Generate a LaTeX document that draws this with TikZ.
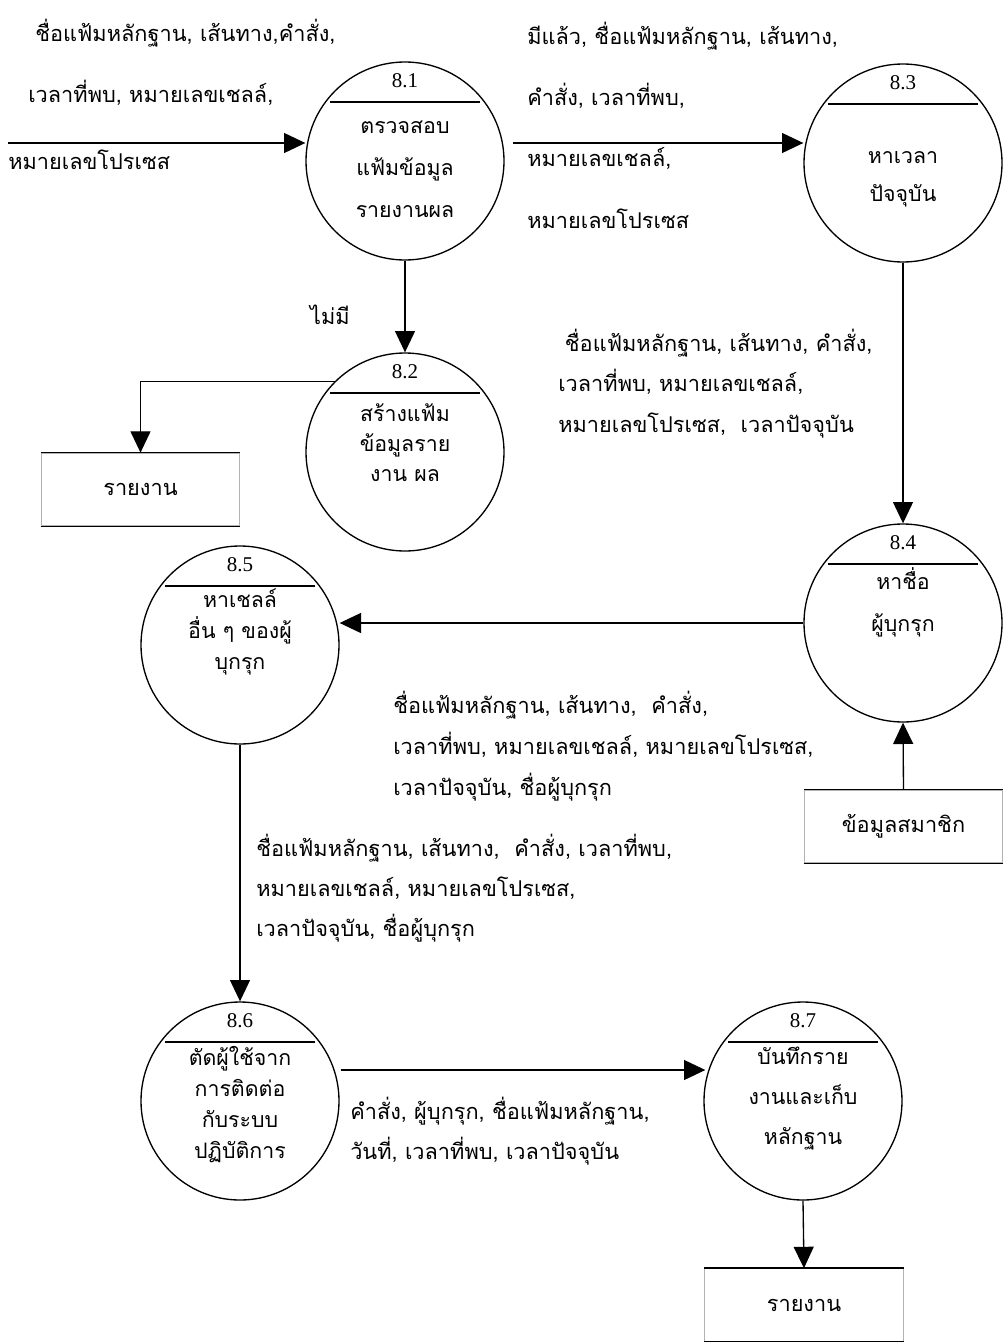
\documentclass[tikz,border=0pt]{standalone}
\usepackage{fontspec}
\setmainfont{Liberation Serif}
\newfontfamily\thaifont[Script=Thai]{Loma}
\usetikzlibrary{arrows.meta,calc}

\begin{document}
\begin{tikzpicture}[x=0.75pt,y=-0.75pt,
  proc/.style={circle,draw,line width=1pt,minimum size=148.5pt,inner sep=0pt},
  pnum/.style={font=\fontsize{15.75}{18}\selectfont,inner sep=0pt},
  ptext/.style={font=\thaifont\fontsize{16}{#1}\selectfont,align=center,inner sep=0pt},
  bar/.style={line width=1.4pt},
  flow/.style={line width=1pt,-{Triangle[length=16pt,width=15pt]}},
  lbl/.style={font=\thaifont\fontsize{16.3}{#1}\selectfont,align=left,inner sep=0pt,anchor=west},
  lbl/.default=46pt,
  ext/.style={draw=gray!60,line width=0.8pt,minimum width=149pt,minimum height=54.5pt,
    inner sep=0pt,font=\thaifont\fontsize{16.3}{18}\selectfont},
  extedge/.style={line width=1.1pt}
]
\useasboundingbox (0,0) rectangle (1003,1342);

% processes
\node[proc] (c81) at (405,161) {};
\node[proc] (c82) at (405,452) {};
\node[proc] (c83) at (903,163) {};
\node[proc] (c84) at (903,623) {};
\node[proc] (c85) at (240,645) {};
\node[proc] (c86) at (240,1101) {};
\node[proc] (c87) at (803,1101) {};

% process numbers and the rule under each
\foreach \n/\t in {81/8.1,82/8.2,83/8.3,84/8.4,85/8.5,86/8.6,87/8.7}{
  \node[pnum] (n\n) at ($(c\n)+(0,-80)$) {\t};
  \draw[bar] ($(c\n)+(-75,-59)$) -- ($(c\n)+(75,-59)$);
}

% process names
\node[ptext=31.5pt] (t81) at ($(c81)+(0,8)$) {ตรวจสอบ\\แฟ้มข้อมูล\\รายงานผล};
\node[ptext=22.5pt] (t82) at ($(c82)+(0,-9)$) {สร้างแฟ้ม\\ข้อมูลราย\\งาน ผล};
\node[ptext=28.5pt] (t83) at ($(c83)+(0,16)$) {หาเวลา\\ปัจจุบัน};
\node[ptext=31.5pt] (t84) at ($(c84)+(0,-21)$) {หาชื่อ\\ผู้บุกรุก};
\node[ptext=23.25pt] (t85) at ($(c85)+(0,-13)$) {หาเชลล์\\อื่น ๆ ของผู้\\บุกรุก};
\node[ptext=23.25pt] (t86) at ($(c86)+(0,4)$) {ตัดผู้ใช้จาก\\การติดต่อ\\กับระบบ\\ปฏิบัติการ};
\node[ptext=30pt] (t87) at ($(c87)+(0,-2)$) {บันทึกราย\\งานและเก็บ\\หลักฐาน};

% external entities
\node[ext] (rep1) at (140.5,489.5) {รายงาน};
\node[ext] (mem) at (903.5,826.5) {ข้อมูลสมาชิก};
\node[ext] (rep2) at (804,1305) {รายงาน};
\foreach \b in {rep1,mem,rep2}{
  \draw[extedge] (\b.north west) -- (\b.north east) (\b.south west) -- (\b.south east);
}

% flows
\coordinate (in) at (8,143);
\draw[flow] (in) -- (in -| c81.west);
\draw[flow] ($(c81.east |- in)+(8,0)$) -- (in -| c83.west);
\draw[flow] (c81.south) -- (c82.north);
\draw[flow] (c82.135) -| (rep1.north);
\draw[flow] (c83.south) -- (c84.north);
\draw[flow] (c84.west) -- (c84.west -| c85.east);
\draw[flow] (mem.north) -- (c84.south);
\draw[flow] (c85.south) -- (c86.north);
\draw[flow] ($(c86.east)+(1,-31)$) -- ($(c87.west)+(2,-31)$);
\draw[flow] (c87.south) -- (rep2.north);

% flow labels
\node[lbl] (li1) at (35,33) {ชื่อแฟ้มหลักฐาน, เส้นทาง,คำสั่ง,};
\node[lbl] (li2) at (28,93) {เวลาที่พบ, หมายเลขเชลล์,};
\node[lbl] (li3) at (8,160) {หมายเลขโปรเซส};
\node[lbl] (l13) at (527,125) {มีแล้ว, ชื่อแฟ้มหลักฐาน, เส้นทาง,\\คำสั่ง, เวลาที่พบ,\\หมายเลขเชลล์,\\หมายเลขโปรเซส};
\node[font=\thaifont\fontsize{16.3}{18}\selectfont,inner sep=0pt] (l12) at (330,315) {ไม่มี};
\node[lbl=30.4pt] (l34) at (558,383.5) {\hspace*{5pt}ชื่อแฟ้มหลักฐาน, เส้นทาง, คำสั่ง,\\เวลาที่พบ, หมายเลขเชลล์,\\หมายเลขโปรเซส,\ \ เวลาปัจจุบัน};
\node[lbl=30.75pt] (l45) at (393,746) {ชื่อแฟ้มหลักฐาน, เส้นทาง,\ \ คำสั่ง,\\เวลาที่พบ, หมายเลขเชลล์, หมายเลขโปรเซส,\\เวลาปัจจุบัน, ชื่อผู้บุกรุก};
\node[lbl=30pt] (l56) at (256,888) {ชื่อแฟ้มหลักฐาน, เส้นทาง,\ \ คำสั่ง, เวลาที่พบ,\\หมายเลขเชลล์, หมายเลขโปรเซส,\\เวลาปัจจุบัน, ชื่อผู้บุกรุก};
\node[lbl=30pt] (l67) at (350,1131) {คำสั่ง, ผู้บุกรุก, ชื่อแฟ้มหลักฐาน,\\วันที่, เวลาที่พบ, เวลาปัจจุบัน};
\end{tikzpicture}
\end{document}
